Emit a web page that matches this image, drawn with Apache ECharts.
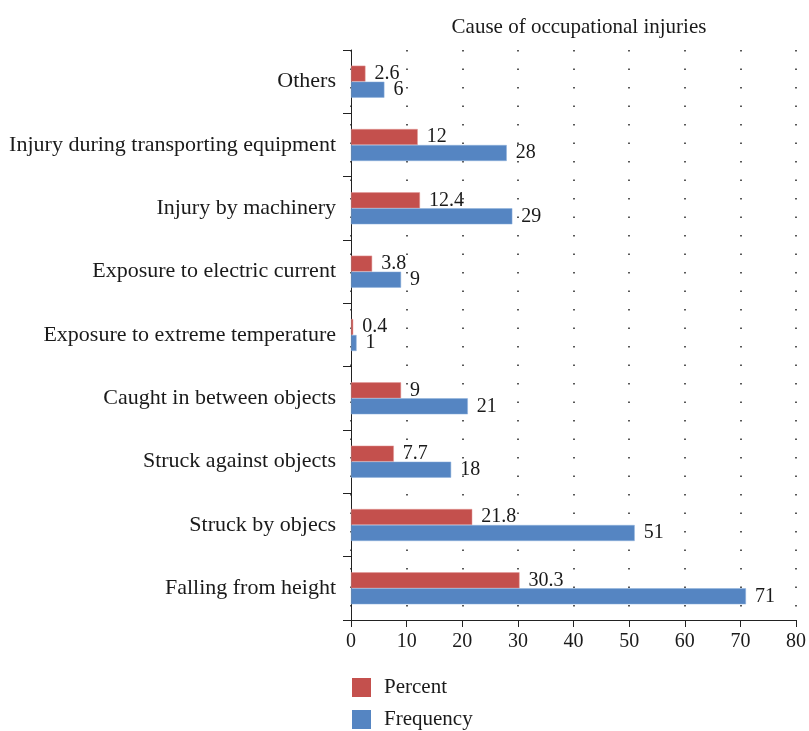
<!DOCTYPE html>
<html>
<head>
<meta charset="utf-8">
<script src="https://cdn.jsdelivr.net/npm/echarts@6/dist/echarts.min.js"></script>
<style>
  html, body { margin: 0; padding: 0; background: #fff; }
  #chart { width: 809px; height: 731px; }
</style>
</head>
<body>
<div id="chart"></div>
<script>
// categories, bottom to top as on the axis
var causes = [
  "Falling from height",
  "Struck by objecs",
  "Struck against objects",
  "Caught in between objects",
  "Exposure to extreme temperature",
  "Exposure to electric current",
  "Injury by machinery",
  "Injury during transporting equipment",
  "Others"
];
var percent = [30.3, 21.8, 7.7, 9, 0.4, 3.8, 12.4, 12, 2.6];
var frequency = [71, 51, 18, 21, 1, 9, 29, 28, 6];
var xTicks = [0, 10, 20, 30, 40, 50, 60, 70, 80];

var serif = "Liberation Serif";
var chart = echarts.init(document.getElementById("chart"));

var labelStyle = {
  show: true,
  position: "right",
  distance: 9,
  fontFamily: serif,
  fontSize: 20,
  color: "#1a1a1a"
};

// one legend box per row, stacked like the original
function legendRow(name, top) {
  return {
    orient: "vertical",
    left: 352,
    top: top,
    padding: 0,
    itemWidth: 19,
    itemHeight: 19,
    icon: "rect",
    data: [name],
    itemStyle: { borderWidth: 0 },
    textStyle: {
      fontFamily: serif,
      fontSize: 21,
      color: "#1a1a1a",
      padding: [2, 0, 0, 8]
    }
  };
}

chart.setOption({
  animation: false,
  title: {
    text: "Cause of occupational injuries",
    left: 574,
    top: 12,
    textAlign: "center",
    textStyle: {
      fontFamily: serif,
      fontSize: 21,
      fontWeight: "normal",
      color: "#1a1a1a"
    }
  },
  legend: [legendRow("Percent", 677), legendRow("Frequency", 709)],
  grid: {
    left: 351,
    right: 12,
    top: 50,
    bottom: 111
  },
  xAxis: {
    type: "value",
    min: xTicks[0],
    max: xTicks[xTicks.length - 1],
    interval: 10,
    axisLine: { show: true, lineStyle: { color: "#222", width: 1 } },
    axisTick: { show: true, length: 7, lineStyle: { color: "#222" } },
    axisLabel: {
      fontFamily: serif,
      fontSize: 20,
      color: "#1a1a1a",
      margin: 12
    },
    splitLine: {
      show: true,
      lineStyle: { color: "#222", type: [1.5, 17], width: 1.5 }
    }
  },
  yAxis: {
    type: "category",
    data: causes,
    axisLine: { show: true, lineStyle: { color: "#222", width: 1 } },
    axisTick: { show: true, length: 8, lineStyle: { color: "#222" } },
    axisLabel: {
      fontFamily: serif,
      fontSize: 22,
      color: "#1a1a1a",
      margin: 15
    }
  },
  series: [
    {
      name: "Percent",
      type: "bar",
      data: percent,
      barWidth: 16,
      barGap: "0%",
      itemStyle: { color: "#C4504D", borderColor: "#e39a98", borderWidth: 0.5 },
      label: labelStyle
    },
    {
      name: "Frequency",
      type: "bar",
      data: frequency,
      barWidth: 16,
      barGap: "0%",
      itemStyle: { color: "#5585C2", borderColor: "#8fb0dc", borderWidth: 0.5 },
      label: labelStyle
    }
  ]
});
</script>
</body>
</html>
